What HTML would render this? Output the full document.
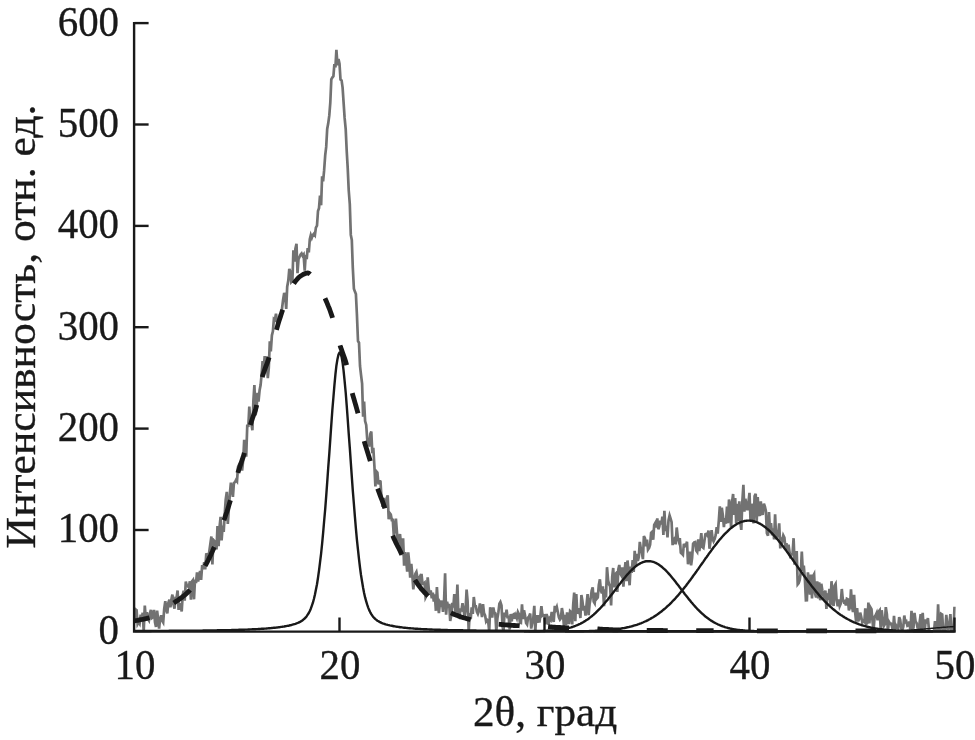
<!DOCTYPE html>
<html lang="ru">
<head>
<meta charset="utf-8">
<title>XRD</title>
<style>
html,body{margin:0;padding:0;background:#fff;}
body{width:975px;height:740px;overflow:hidden;font-family:"Liberation Serif",serif;}
svg{display:block;filter:grayscale(1);}
svg text{font-family:"Liberation Serif",serif;font-size:43.0px;fill:#1c1819;stroke:#1c1819;stroke-width:0.35px;}
svg text.t{font-size:41.5px;}
</style>
</head>
<body>
<svg width="975" height="740" viewBox="0 0 975 740">
<rect x="0" y="0" width="975" height="740" fill="#ffffff"/>
<defs><clipPath id="plot"><rect x="134.5" y="0" width="821.3" height="631.4"/></clipPath></defs>
<!-- measured data (noisy) -->
<path clip-path="url(#plot)" d="M134.5,620.3 L135.5,609.3 L136.6,610.2 L137.6,624.0 L138.6,622.1 L139.6,623.7 L140.7,614.6 L141.7,619.5 L142.7,612.7 L143.7,631.4 L144.8,605.6 L145.8,618.9 L146.8,612.3 L147.8,618.7 L148.9,620.4 L149.9,613.2 L150.9,610.0 L151.9,618.0 L153.0,617.2 L154.0,609.9 L155.0,622.2 L156.0,627.0 L157.1,610.7 L158.1,618.9 L159.1,628.6 L160.1,618.9 L161.2,615.3 L162.2,620.7 L163.2,622.4 L164.2,609.0 L165.3,601.1 L166.3,609.8 L167.3,613.3 L168.3,603.1 L169.4,599.6 L170.4,607.3 L171.4,599.5 L172.4,594.6 L173.5,604.3 L174.5,608.7 L175.5,598.2 L176.5,598.4 L177.6,590.5 L178.6,609.9 L179.6,603.9 L180.6,604.7 L181.7,611.5 L182.7,594.9 L183.7,590.7 L184.7,600.6 L185.8,581.6 L186.8,585.5 L187.8,586.2 L188.8,587.1 L189.9,581.2 L190.9,599.6 L191.9,581.6 L192.9,580.3 L194.0,599.3 L195.0,579.5 L196.0,583.1 L197.0,572.5 L198.1,581.4 L199.1,576.0 L200.1,571.0 L201.1,579.9 L202.2,565.1 L203.2,569.4 L204.2,562.3 L205.2,569.4 L206.3,553.3 L207.3,555.6 L208.3,560.5 L209.3,551.3 L210.4,543.5 L211.4,536.5 L212.4,564.4 L213.4,540.0 L214.5,541.3 L215.5,543.8 L216.5,549.4 L217.5,526.1 L218.6,546.1 L219.6,526.6 L220.6,516.9 L221.6,540.5 L222.7,525.6 L223.7,531.8 L224.7,514.5 L225.7,499.7 L226.8,491.9 L227.8,524.0 L228.8,509.6 L229.8,494.3 L230.9,482.6 L231.9,489.7 L232.9,496.8 L233.9,483.1 L235.0,482.1 L236.0,480.0 L237.0,481.3 L238.0,467.0 L239.1,464.5 L240.1,465.2 L241.1,463.4 L242.1,470.6 L243.2,459.7 L244.2,439.9 L245.2,449.3 L246.2,456.6 L247.3,424.5 L248.3,427.0 L249.3,406.6 L250.3,422.2 L251.4,423.8 L252.4,430.3 L253.4,400.2 L254.4,385.0 L255.5,415.2 L256.5,409.8 L257.5,392.9 L258.5,401.6 L259.6,390.2 L260.6,385.1 L261.6,374.5 L262.6,361.1 L263.7,368.3 L264.7,356.2 L265.7,366.8 L266.7,356.4 L267.8,378.2 L268.8,367.9 L269.8,341.4 L270.8,351.4 L271.9,335.3 L272.9,331.3 L273.9,319.0 L274.9,319.9 L276.0,313.7 L277.0,321.4 L278.0,323.6 L279.0,320.2 L280.1,314.1 L281.1,317.2 L282.1,307.8 L283.1,299.8 L284.2,293.0 L285.2,295.8 L286.2,309.0 L287.2,286.7 L288.3,280.6 L289.3,268.9 L290.3,271.6 L291.3,282.0 L292.4,280.8 L293.4,250.4 L294.4,261.6 L295.4,248.7 L296.5,243.9 L297.5,273.2 L298.5,259.1 L299.5,257.0 L300.6,254.6 L301.6,253.5 L302.6,255.7 L303.6,254.5 L304.7,270.6 L305.7,254.9 L306.7,259.2 L307.7,248.2 L308.8,252.5 L309.8,239.2 L310.8,235.1 L311.8,237.9 L312.9,234.9 L313.9,233.7 L314.9,235.1 L315.9,227.6 L317.0,225.6 L318.0,211.0 L319.0,208.2 L320.0,195.5 L321.1,205.3 L322.1,176.2 L323.1,181.3 L324.1,170.7 L325.2,155.3 L326.2,146.9 L327.2,128.9 L328.2,123.6 L329.3,115.4 L330.3,102.7 L331.3,79.4 L332.3,77.6 L333.4,76.2 L334.4,64.0 L335.4,67.4 L336.4,49.8 L337.5,65.4 L338.5,59.0 L339.5,63.6 L340.5,79.6 L341.6,80.4 L342.6,87.6 L343.6,102.6 L344.6,117.7 L345.7,129.2 L346.7,150.7 L347.7,167.8 L348.7,190.0 L349.8,204.1 L350.8,234.9 L351.8,240.0 L352.8,267.6 L353.9,288.7 L354.9,291.6 L355.9,294.1 L356.9,314.2 L358.0,341.0 L359.0,342.7 L360.0,366.0 L361.0,374.7 L362.1,383.7 L363.1,416.7 L364.1,401.5 L365.1,421.1 L366.2,425.0 L367.2,438.9 L368.2,445.2 L369.2,445.4 L370.3,434.0 L371.3,431.5 L372.3,453.3 L373.3,447.9 L374.4,466.0 L375.4,486.5 L376.4,471.4 L377.4,472.6 L378.5,484.5 L379.5,480.9 L380.5,481.5 L381.5,498.0 L382.6,506.8 L383.6,498.2 L384.6,501.5 L385.6,506.6 L386.7,498.1 L387.7,495.4 L388.7,519.3 L389.7,513.1 L390.8,514.6 L391.8,520.1 L392.8,520.0 L393.8,535.8 L394.9,528.0 L395.9,518.6 L396.9,531.9 L397.9,546.9 L399.0,537.9 L400.0,534.2 L401.0,544.4 L402.0,555.0 L403.1,538.4 L404.1,565.6 L405.1,552.2 L406.1,559.0 L407.2,571.7 L408.2,552.4 L409.2,562.2 L410.2,577.6 L411.3,563.9 L412.3,574.8 L413.3,589.4 L414.3,580.4 L415.4,573.6 L416.4,571.9 L417.4,577.5 L418.4,579.9 L419.5,577.6 L420.5,584.7 L421.5,574.0 L422.5,584.0 L423.6,583.8 L424.6,582.8 L425.6,597.5 L426.6,595.5 L427.7,577.4 L428.7,588.5 L429.7,594.7 L430.7,590.4 L431.8,598.2 L432.8,592.7 L433.8,601.5 L434.8,594.4 L435.9,610.8 L436.9,587.1 L437.9,603.4 L438.9,613.1 L440.0,602.4 L441.0,604.2 L442.0,600.5 L443.0,611.9 L444.1,599.6 L445.1,573.3 L446.1,614.7 L447.1,601.7 L448.2,607.5 L449.2,603.8 L450.2,620.9 L451.2,615.8 L452.3,602.9 L453.3,607.4 L454.3,594.0 L455.3,613.7 L456.4,606.8 L457.4,584.6 L458.4,615.2 L459.4,616.7 L460.5,609.8 L461.5,610.2 L462.5,603.2 L463.5,609.4 L464.6,616.9 L465.6,609.2 L466.6,589.6 L467.6,601.0 L468.7,631.4 L469.7,613.0 L470.7,619.2 L471.7,607.3 L472.8,613.9 L473.8,597.0 L474.8,605.4 L475.8,605.9 L476.9,611.8 L477.9,613.9 L478.9,611.0 L479.9,603.4 L481.0,609.8 L482.0,617.1 L483.0,604.1 L484.0,613.1 L485.1,615.4 L486.1,621.3 L487.1,619.7 L488.1,620.4 L489.2,631.4 L490.2,607.3 L491.2,611.1 L492.2,617.5 L493.3,607.5 L494.3,612.5 L495.3,613.2 L496.3,631.4 L497.4,618.3 L498.4,612.2 L499.4,603.7 L500.4,602.0 L501.5,605.4 L502.5,626.2 L503.5,631.4 L504.5,612.5 L505.6,617.0 L506.6,609.6 L507.6,618.4 L508.6,615.7 L509.7,629.5 L510.7,614.0 L511.7,621.3 L512.7,615.0 L513.8,614.2 L514.8,618.8 L515.8,615.4 L516.8,618.1 L517.9,612.0 L518.9,614.1 L519.9,622.5 L520.9,622.9 L522.0,604.4 L523.0,619.1 L524.0,610.4 L525.0,615.2 L526.1,622.9 L527.1,624.4 L528.1,617.5 L529.1,616.4 L530.2,613.6 L531.2,628.6 L532.2,623.3 L533.2,619.3 L534.3,605.8 L535.3,631.4 L536.3,615.1 L537.3,622.9 L538.4,615.2 L539.4,622.5 L540.4,615.7 L541.4,606.1 L542.5,615.7 L543.5,615.0 L544.5,615.5 L545.5,624.4 L546.6,614.0 L547.6,619.9 L548.6,624.7 L549.6,618.4 L550.7,619.8 L551.7,611.9 L552.7,618.1 L553.7,621.8 L554.8,605.8 L555.8,609.4 L556.8,606.9 L557.8,611.9 L558.9,617.4 L559.9,619.6 L560.9,618.2 L561.9,608.1 L563.0,614.4 L564.0,626.7 L565.0,614.8 L566.0,625.4 L567.1,612.3 L568.1,622.8 L569.1,622.8 L570.1,611.2 L571.2,612.2 L572.2,624.4 L573.2,604.5 L574.2,592.5 L575.3,621.3 L576.3,594.0 L577.3,613.7 L578.3,611.5 L579.4,608.3 L580.4,618.0 L581.4,595.1 L582.4,601.0 L583.5,610.5 L584.5,606.0 L585.5,615.5 L586.5,605.3 L587.6,594.1 L588.6,615.2 L589.6,604.1 L590.6,598.6 L591.7,590.5 L592.7,587.4 L593.7,601.6 L594.7,603.3 L595.8,592.7 L596.8,598.7 L597.8,597.5 L598.8,585.2 L599.9,579.3 L600.9,590.4 L601.9,593.4 L602.9,586.2 L604.0,606.1 L605.0,589.4 L606.0,597.4 L607.0,567.2 L608.1,580.4 L609.1,584.5 L610.1,586.4 L611.1,605.4 L612.2,576.8 L613.2,568.0 L614.2,587.4 L615.2,574.3 L616.3,573.1 L617.3,591.9 L618.3,569.5 L619.3,565.0 L620.4,573.9 L621.4,575.6 L622.4,567.3 L623.4,586.7 L624.5,571.5 L625.5,562.1 L626.5,581.2 L627.5,560.5 L628.6,571.8 L629.6,585.3 L630.6,566.6 L631.6,573.0 L632.7,560.2 L633.7,572.0 L634.7,550.9 L635.7,565.3 L636.8,554.0 L637.8,560.9 L638.8,557.0 L639.8,541.9 L640.9,549.1 L641.9,553.0 L642.9,559.1 L643.9,536.0 L645.0,538.3 L646.0,546.3 L647.0,539.7 L648.0,549.6 L649.1,548.0 L650.1,544.8 L651.1,532.8 L652.1,531.8 L653.2,539.7 L654.2,525.0 L655.2,523.2 L656.2,527.4 L657.3,518.3 L658.3,529.2 L659.3,526.6 L660.3,520.6 L661.4,524.5 L662.4,516.6 L663.4,534.9 L664.4,510.8 L665.5,530.9 L666.5,525.8 L667.5,537.4 L668.5,520.5 L669.6,515.5 L670.6,518.6 L671.6,522.1 L672.6,545.1 L673.7,539.7 L674.7,538.4 L675.7,544.3 L676.7,527.5 L677.8,537.6 L678.8,541.1 L679.8,538.1 L680.8,552.6 L681.9,553.7 L682.9,554.8 L683.9,543.8 L684.9,546.3 L686.0,545.3 L687.0,541.7 L688.0,564.3 L689.0,557.7 L690.1,551.7 L691.1,565.3 L692.1,557.9 L693.1,543.8 L694.2,542.5 L695.2,542.1 L696.2,550.6 L697.2,552.0 L698.3,539.3 L699.3,551.1 L700.3,543.5 L701.3,533.2 L702.4,547.1 L703.4,547.9 L704.4,541.1 L705.4,534.2 L706.5,533.8 L707.5,535.4 L708.5,530.5 L709.5,548.7 L710.6,540.7 L711.6,530.2 L712.6,538.8 L713.6,541.3 L714.7,538.9 L715.7,535.1 L716.7,527.1 L717.7,533.6 L718.8,520.9 L719.8,506.4 L720.8,522.0 L721.8,507.8 L722.9,515.6 L723.9,527.2 L724.9,518.2 L725.9,523.7 L727.0,506.6 L728.0,523.1 L729.0,499.5 L730.0,505.3 L731.1,528.3 L732.1,501.8 L733.1,494.0 L734.1,514.9 L735.2,498.0 L736.2,523.1 L737.2,503.9 L738.2,521.3 L739.3,501.4 L740.3,522.2 L741.3,529.9 L742.3,502.1 L743.4,484.9 L744.4,511.6 L745.4,498.8 L746.4,505.7 L747.5,510.1 L748.5,501.9 L749.5,492.9 L750.5,519.9 L751.6,503.9 L752.6,506.5 L753.6,523.4 L754.6,496.1 L755.7,493.7 L756.7,521.0 L757.7,497.0 L758.7,513.2 L759.8,515.9 L760.8,501.4 L761.8,513.9 L762.8,513.8 L763.9,503.7 L764.9,506.7 L765.9,511.2 L766.9,533.1 L768.0,535.7 L769.0,512.0 L770.0,531.8 L771.0,523.0 L772.1,535.3 L773.1,528.3 L774.1,539.4 L775.1,514.2 L776.2,539.5 L777.2,532.7 L778.2,534.6 L779.2,523.4 L780.3,548.5 L781.3,537.5 L782.3,540.6 L783.3,535.5 L784.4,537.7 L785.4,547.7 L786.4,543.1 L787.4,550.4 L788.5,544.7 L789.5,551.6 L790.5,558.4 L791.5,554.7 L792.6,553.1 L793.6,538.2 L794.6,564.6 L795.6,559.4 L796.7,551.1 L797.7,584.3 L798.7,583.1 L799.7,580.0 L800.8,572.3 L801.8,551.6 L802.8,571.1 L803.8,565.5 L804.9,579.5 L805.9,600.3 L806.9,600.2 L807.9,572.4 L809.0,580.8 L810.0,594.6 L811.0,574.6 L812.0,598.4 L813.1,576.1 L814.1,574.2 L815.1,593.9 L816.1,597.4 L817.2,581.3 L818.2,598.4 L819.2,582.3 L820.2,600.3 L821.3,583.8 L822.3,590.3 L823.3,595.3 L824.3,599.6 L825.4,590.5 L826.4,609.0 L827.4,595.8 L828.4,597.3 L829.5,588.8 L830.5,605.5 L831.5,581.2 L832.5,598.6 L833.6,606.0 L834.6,585.6 L835.6,583.9 L836.6,599.9 L837.7,606.3 L838.7,599.5 L839.7,606.0 L840.7,603.6 L841.8,589.0 L842.8,599.3 L843.8,602.1 L844.8,601.3 L845.9,605.4 L846.9,598.9 L847.9,599.4 L848.9,610.4 L850.0,607.3 L851.0,589.4 L852.0,606.4 L853.0,612.1 L854.1,594.8 L855.1,612.0 L856.1,621.6 L857.1,608.0 L858.2,621.3 L859.2,618.7 L860.2,612.6 L861.2,616.8 L862.3,622.4 L863.3,621.2 L864.3,622.0 L865.3,608.3 L866.4,623.8 L867.4,622.9 L868.4,602.5 L869.4,623.4 L870.5,607.5 L871.5,609.2 L872.5,621.0 L873.5,631.3 L874.6,616.7 L875.6,615.2 L876.6,613.0 L877.6,620.3 L878.7,611.5 L879.7,610.2 L880.7,629.6 L881.7,610.2 L882.8,620.2 L883.8,626.1 L884.8,624.3 L885.8,607.2 L886.9,614.3 L887.9,631.4 L888.9,621.6 L889.9,623.4 L891.0,623.7 L892.0,626.4 L893.0,631.4 L894.0,615.9 L895.1,630.0 L896.1,625.6 L897.1,627.4 L898.1,628.5 L899.2,617.1 L900.2,619.9 L901.2,628.2 L902.2,630.3 L903.3,626.7 L904.3,615.5 L905.3,622.1 L906.3,621.3 L907.4,625.7 L908.4,625.2 L909.4,621.5 L910.4,631.4 L911.5,610.7 L912.5,629.4 L913.5,627.7 L914.5,612.9 L915.6,621.6 L916.6,623.0 L917.6,627.9 L918.6,631.4 L919.7,622.0 L920.7,614.1 L921.7,630.4 L922.7,612.9 L923.8,631.4 L924.8,629.1 L925.8,619.5 L926.8,623.5 L927.9,618.1 L928.9,629.2 L929.9,631.4 L930.9,631.4 L932.0,631.4 L933.0,631.4 L934.0,631.4 L935.0,621.1 L936.1,628.6 L937.1,631.4 L938.1,604.3 L939.1,630.0 L940.2,631.4 L941.2,613.9 L942.2,614.5 L943.2,631.4 L944.3,631.4 L945.3,631.3 L946.3,614.8 L947.3,625.9 L948.4,629.8 L949.4,623.8 L950.4,614.2 L951.4,631.4 L952.5,626.5 L953.5,631.4 L954.5,606.7" fill="none" stroke="#717275" stroke-width="2.7" stroke-linejoin="miter" stroke-miterlimit="4"/>
<!-- amorphous halo (dashed) -->
<path d="M134.5,621.0 L135.5,620.7 L136.6,620.5 L137.6,620.3 L138.6,620.1 L139.6,619.9 L140.7,619.7 L141.7,619.5 L142.7,619.3 L143.7,619.1 L144.8,618.8 L145.8,618.6 L146.8,618.4 L147.8,618.1 L148.9,617.8 L149.9,617.5 L150.9,617.2 L151.9,616.9 L153.0,616.5 L154.0,616.0 L155.0,615.6 L156.0,615.1 L157.1,614.5 L158.1,613.9 L159.1,613.3 L160.1,612.7 L161.2,612.0 L162.2,611.3 L163.2,610.6 L164.2,609.9 L165.3,609.2 L166.3,608.4 L167.3,607.7 L168.3,606.9 L169.4,606.2 L170.4,605.4 L171.4,604.7 L172.4,604.0 L173.5,603.2 L174.5,602.5 L175.5,601.8 L176.5,601.1 L177.6,600.4 L178.6,599.7 L179.6,599.0 L180.6,598.3 L181.7,597.5 L182.7,596.7 L183.7,595.9 L184.7,595.1 L185.8,594.2 L186.8,593.3 L187.8,592.3 L188.8,591.3 L189.9,590.2 L190.9,589.0 L191.9,587.7 L192.9,586.3 L194.0,584.9 L195.0,583.3 L196.0,581.8 L197.0,580.1 L198.1,578.4 L199.1,576.7 L200.1,574.9 L201.1,573.1 L202.2,571.3 L203.2,569.5 L204.2,567.6 L205.2,565.7 L206.3,563.9 L207.3,561.9 L208.3,560.0 L209.3,557.9 L210.4,555.8 L211.4,553.6 L212.4,551.4 L213.4,549.0 L214.5,546.6 L215.5,544.1 L216.5,541.4 L217.5,538.7 L218.6,535.8 L219.6,533.0 L220.6,530.0 L221.6,527.1 L222.7,524.1 L223.7,521.1 L224.7,518.1 L225.7,515.1 L226.8,512.0 L227.8,508.9 L228.8,505.6 L229.8,502.3 L230.9,498.8 L231.9,495.2 L232.9,491.3 L233.9,487.5 L235.0,483.6 L236.0,479.7 L237.0,476.0 L238.0,472.4 L239.1,469.1 L240.1,466.1 L241.1,463.1 L242.1,460.1 L243.2,456.9 L244.2,453.5 L245.2,449.5 L246.2,444.7 L247.3,439.5 L248.3,434.3 L249.3,429.4 L250.3,425.1 L251.4,421.6 L252.4,418.5 L253.4,415.7 L254.4,412.9 L255.5,409.8 L256.5,406.2 L257.5,401.7 L258.5,396.4 L259.6,390.7 L260.6,385.0 L261.6,379.9 L262.6,375.8 L263.7,372.5 L264.7,369.6 L265.7,366.9 L266.7,364.3 L267.8,361.5 L268.8,358.3 L269.8,354.8 L270.8,351.1 L271.9,347.1 L272.9,343.1 L273.9,339.1 L274.9,335.2 L276.0,331.4 L277.0,327.9 L278.0,324.4 L279.0,321.1 L280.1,317.8 L281.1,314.6 L282.1,311.6 L283.1,308.7 L284.2,305.7 L285.2,302.8 L286.2,299.9 L287.2,297.1 L288.3,294.4 L289.3,291.9 L290.3,289.6 L291.3,287.6 L292.4,285.9 L293.4,284.2 L294.4,282.7 L295.4,281.3 L296.5,280.0 L297.5,278.8 L298.5,277.7 L299.5,276.8 L300.6,276.1 L301.6,275.4 L302.6,274.8 L303.6,274.2 L304.7,273.7 L305.7,273.3 L306.7,273.1 L307.7,273.0 L308.8,273.3 L309.8,273.9 L310.8,274.8 L311.8,275.8 L312.9,277.0 L313.9,278.1 L314.9,279.3 L315.9,280.7 L317.0,282.3 L318.0,284.0 L319.0,285.9 L320.0,287.9 L321.1,290.0 L322.1,292.1 L323.1,294.3 L324.1,296.5 L325.2,298.7 L326.2,301.0 L327.2,303.3 L328.2,305.9 L329.3,308.5 L330.3,311.2 L331.3,314.1 L332.3,317.1 L333.4,320.5 L334.4,324.2 L335.4,328.1 L336.4,332.1 L337.5,336.1 L338.5,340.0 L339.5,343.6 L340.5,346.9 L341.6,349.9 L342.6,352.7 L343.6,355.5 L344.6,358.4 L345.7,361.7 L346.7,365.4 L347.7,370.1 L348.7,375.3 L349.8,380.7 L350.8,386.1 L351.8,391.0 L352.8,395.2 L353.9,398.8 L354.9,402.3 L355.9,405.7 L356.9,409.3 L358.0,413.3 L359.0,417.7 L360.0,422.5 L361.0,427.4 L362.1,432.2 L363.1,436.7 L364.1,440.8 L365.1,444.4 L366.2,447.7 L367.2,451.0 L368.2,454.2 L369.2,457.5 L370.3,461.2 L371.3,465.0 L372.3,469.0 L373.3,473.1 L374.4,477.1 L375.4,481.0 L376.4,484.6 L377.4,488.0 L378.5,491.0 L379.5,493.7 L380.5,496.3 L381.5,498.9 L382.6,501.6 L383.6,504.4 L384.6,507.5 L385.6,510.9 L386.7,514.6 L387.7,518.5 L388.7,522.4 L389.7,526.2 L390.8,529.8 L391.8,533.0 L392.8,535.7 L393.8,538.2 L394.9,540.5 L395.9,542.7 L396.9,544.7 L397.9,546.7 L399.0,548.7 L400.0,550.8 L401.0,552.9 L402.0,555.0 L403.1,557.2 L404.1,559.4 L405.1,561.6 L406.1,563.8 L407.2,565.9 L408.2,568.0 L409.2,570.1 L410.2,572.0 L411.3,573.9 L412.3,575.8 L413.3,577.5 L414.3,579.1 L415.4,580.7 L416.4,582.2 L417.4,583.7 L418.4,585.1 L419.5,586.5 L420.5,587.8 L421.5,589.1 L422.5,590.2 L423.6,591.4 L424.6,592.5 L425.6,593.5 L426.6,594.6 L427.7,595.7 L428.7,596.7 L429.7,597.7 L430.7,598.7 L431.8,599.7 L432.8,600.6 L433.8,601.5 L434.8,602.4 L435.9,603.3 L436.9,604.2 L437.9,605.0 L438.9,605.8 L440.0,606.5 L441.0,607.3 L442.0,608.0 L443.0,608.7 L444.1,609.3 L445.1,609.9 L446.1,610.5 L447.1,611.0 L448.2,611.6 L449.2,612.1 L450.2,612.6 L451.2,613.1 L452.3,613.5 L453.3,614.0 L454.3,614.4 L455.3,614.8 L456.4,615.2 L457.4,615.6 L458.4,616.0 L459.4,616.4 L460.5,616.7 L461.5,617.1 L462.5,617.4 L463.5,617.7 L464.6,618.0 L465.6,618.3 L466.6,618.6 L467.6,618.8 L468.7,619.1 L469.7,619.3 L470.7,619.6 L471.7,619.8 L472.8,620.0 L473.8,620.3 L474.8,620.5 L475.8,620.7 L476.9,620.9 L477.9,621.1 L478.9,621.3 L479.9,621.5 L481.0,621.7 L482.0,621.9 L483.0,622.1 L484.0,622.2 L485.1,622.4 L486.1,622.6 L487.1,622.7 L488.1,622.9 L489.2,623.0 L490.2,623.2 L491.2,623.3 L492.2,623.4 L493.3,623.6 L494.3,623.7 L495.3,623.8 L496.3,623.9 L497.4,624.0 L498.4,624.2 L499.4,624.3 L500.4,624.4 L501.5,624.5 L502.5,624.6 L503.5,624.7 L504.5,624.8 L505.6,624.9 L506.6,624.9 L507.6,625.0 L508.6,625.1 L509.7,625.2 L510.7,625.3 L511.7,625.3 L512.7,625.4 L513.8,625.5 L514.8,625.5 L515.8,625.6 L516.8,625.6 L517.9,625.7 L518.9,625.7 L519.9,625.8 L520.9,625.8 L522.0,625.9 L523.0,625.9 L524.0,626.0 L525.0,626.0 L526.1,626.0 L527.1,626.1 L528.1,626.1 L529.1,626.1 L530.2,626.2 L531.2,626.2 L532.2,626.2 L533.2,626.3 L534.3,626.3 L535.3,626.3 L536.3,626.4 L537.3,626.4 L538.4,626.5 L539.4,626.5 L540.4,626.5 L541.4,626.6 L542.5,626.6 L543.5,626.6 L544.5,626.7 L545.5,626.7 L546.6,626.8 L547.6,626.8 L548.6,626.9 L549.6,626.9 L550.7,627.0 L551.7,627.0 L552.7,627.1 L553.7,627.1 L554.8,627.2 L555.8,627.3 L556.8,627.3 L557.8,627.4 L558.9,627.4 L559.9,627.5 L560.9,627.6 L561.9,627.6 L563.0,627.7 L564.0,627.7 L565.0,627.8 L566.0,627.8 L567.1,627.9 L568.1,627.9 L569.1,627.9 L570.1,628.0 L571.2,628.0 L572.2,628.1 L573.2,628.1 L574.2,628.1 L575.3,628.2 L576.3,628.2 L577.3,628.2 L578.3,628.3 L579.4,628.3 L580.4,628.3 L581.4,628.4 L582.4,628.4 L583.5,628.4 L584.5,628.5 L585.5,628.5 L586.5,628.5 L587.6,628.6 L588.6,628.6 L589.6,628.6 L590.6,628.7 L591.7,628.7 L592.7,628.7 L593.7,628.8 L594.7,628.8 L595.8,628.9 L596.8,628.9 L597.8,629.0 L598.8,629.0 L599.9,629.1 L600.9,629.1 L601.9,629.2 L602.9,629.3 L604.0,629.3 L605.0,629.4 L606.0,629.4 L607.0,629.5 L608.1,629.5 L609.1,629.6 L610.1,629.6 L611.1,629.7 L612.2,629.7 L613.2,629.8 L614.2,629.8 L615.2,629.8 L616.3,629.9 L617.3,629.9 L618.3,629.9 L619.3,630.0 L620.4,630.0 L621.4,630.0 L622.4,630.1 L623.4,630.1 L624.5,630.1 L625.5,630.1 L626.5,630.2 L627.5,630.2 L628.6,630.2 L629.6,630.2 L630.6,630.3 L631.6,630.3 L632.7,630.3 L633.7,630.3 L634.7,630.3 L635.7,630.4 L636.8,630.4 L637.8,630.4 L638.8,630.4 L639.8,630.4 L640.9,630.4 L641.9,630.4 L642.9,630.5 L643.9,630.5 L645.0,630.5 L646.0,630.5 L647.0,630.5 L648.0,630.5 L649.1,630.5 L650.1,630.5 L651.1,630.5 L652.1,630.5 L653.2,630.5 L654.2,630.5 L655.2,630.5 L656.2,630.5 L657.3,630.5 L658.3,630.5 L659.3,630.5 L660.3,630.5 L661.4,630.5 L662.4,630.5 L663.4,630.6 L664.4,630.6 L665.5,630.6 L666.5,630.6 L667.5,630.6 L668.5,630.6 L669.6,630.6 L670.6,630.6 L671.6,630.6 L672.6,630.6 L673.7,630.6 L674.7,630.6 L675.7,630.6 L676.7,630.6 L677.8,630.6 L678.8,630.6 L679.8,630.6 L680.8,630.6 L681.9,630.6 L682.9,630.6 L683.9,630.6 L684.9,630.6 L686.0,630.6 L687.0,630.6 L688.0,630.6 L689.0,630.6 L690.1,630.6 L691.1,630.6 L692.1,630.6 L693.1,630.6 L694.2,630.6 L695.2,630.6 L696.2,630.6 L697.2,630.6 L698.3,630.6 L699.3,630.6 L700.3,630.6 L701.3,630.6 L702.4,630.7 L703.4,630.7 L704.4,630.7 L705.4,630.7 L706.5,630.7 L707.5,630.7 L708.5,630.7 L709.5,630.7 L710.6,630.7 L711.6,630.7 L712.6,630.7 L713.6,630.7" fill="none" stroke="#1c1819" stroke-width="4.8" stroke-dasharray="21 28.45" stroke-dashoffset="5.6"/>
<path d="M756.9,630.8 L777.8,630.8 M806.2,630.8 L827.1,630.8 M855.5,630.8 L876.4,630.8" fill="none" stroke="#1c1819" stroke-width="4.8"/>
<!-- fitted peaks -->
<g fill="none" stroke="#1c1819" stroke-width="2.4" stroke-linejoin="round">
<path d="M134.5,631.0 L135.5,631.0 L136.6,631.0 L137.6,631.0 L138.6,631.0 L139.6,631.0 L140.7,631.0 L141.7,631.0 L142.7,631.0 L143.7,631.0 L144.8,631.0 L145.8,631.0 L146.8,631.0 L147.8,631.0 L148.9,631.0 L149.9,631.0 L150.9,631.0 L151.9,630.9 L153.0,630.9 L154.0,630.9 L155.0,630.9 L156.0,630.9 L157.1,630.9 L158.1,630.9 L159.1,630.9 L160.1,630.9 L161.2,630.9 L162.2,630.9 L163.2,630.9 L164.2,630.9 L165.3,630.9 L166.3,630.9 L167.3,630.9 L168.3,630.9 L169.4,630.8 L170.4,630.8 L171.4,630.8 L172.4,630.8 L173.5,630.8 L174.5,630.8 L175.5,630.8 L176.5,630.8 L177.6,630.8 L178.6,630.8 L179.6,630.8 L180.6,630.8 L181.7,630.8 L182.7,630.8 L183.7,630.7 L184.7,630.7 L185.8,630.7 L186.8,630.7 L187.8,630.7 L188.8,630.7 L189.9,630.7 L190.9,630.7 L191.9,630.7 L192.9,630.7 L194.0,630.6 L195.0,630.6 L196.0,630.6 L197.0,630.6 L198.1,630.6 L199.1,630.6 L200.1,630.6 L201.1,630.6 L202.2,630.6 L203.2,630.5 L204.2,630.5 L205.2,630.5 L206.3,630.5 L207.3,630.5 L208.3,630.5 L209.3,630.5 L210.4,630.4 L211.4,630.4 L212.4,630.4 L213.4,630.4 L214.5,630.4 L215.5,630.4 L216.5,630.4 L217.5,630.3 L218.6,630.3 L219.6,630.3 L220.6,630.3 L221.6,630.3 L222.7,630.2 L223.7,630.2 L224.7,630.2 L225.7,630.2 L226.8,630.2 L227.8,630.1 L228.8,630.1 L229.8,630.1 L230.9,630.1 L231.9,630.0 L232.9,630.0 L233.9,630.0 L235.0,630.0 L236.0,629.9 L237.0,629.9 L238.0,629.9 L239.1,629.8 L240.1,629.8 L241.1,629.8 L242.1,629.7 L243.2,629.7 L244.2,629.7 L245.2,629.6 L246.2,629.6 L247.3,629.6 L248.3,629.5 L249.3,629.5 L250.3,629.4 L251.4,629.4 L252.4,629.3 L253.4,629.3 L254.4,629.2 L255.5,629.2 L256.5,629.1 L257.5,629.1 L258.5,629.0 L259.6,629.0 L260.6,628.9 L261.6,628.8 L262.6,628.8 L263.7,628.7 L264.7,628.6 L265.7,628.6 L266.7,628.5 L267.8,628.4 L268.8,628.3 L269.8,628.2 L270.8,628.1 L271.9,628.0 L272.9,627.9 L273.9,627.8 L274.9,627.7 L276.0,627.6 L277.0,627.5 L278.0,627.4 L279.0,627.2 L280.1,627.1 L281.1,626.9 L282.1,626.8 L283.1,626.6 L284.2,626.5 L285.2,626.3 L286.2,626.1 L287.2,625.9 L288.3,625.7 L289.3,625.5 L290.3,625.2 L291.3,625.0 L292.4,624.7 L293.4,624.4 L294.4,624.1 L295.4,623.8 L296.5,623.4 L297.5,623.0 L298.5,622.6 L299.5,622.1 L300.6,621.6 L301.6,620.9 L302.6,620.2 L303.6,619.4 L304.7,618.5 L305.7,617.4 L306.7,616.2 L307.7,614.7 L308.8,613.0 L309.8,611.0 L310.8,608.7 L311.8,605.9 L312.9,602.7 L313.9,599.0 L314.9,594.7 L315.9,589.8 L317.0,584.2 L318.0,577.8 L319.0,570.6 L320.0,562.6 L321.1,553.6 L322.1,543.8 L323.1,533.1 L324.1,521.5 L325.2,509.1 L326.2,496.1 L327.2,482.3 L328.2,468.2 L329.3,453.7 L330.3,439.1 L331.3,424.7 L332.3,410.7 L333.4,397.5 L334.4,385.4 L335.4,374.6 L336.4,365.7 L337.5,358.9 L338.5,354.5 L339.5,352.6 L340.5,353.4 L341.6,356.9 L342.6,362.7 L343.6,370.8 L344.6,380.9 L345.7,392.5 L346.7,405.3 L347.7,419.0 L348.7,433.3 L349.8,447.9 L350.8,462.4 L351.8,476.7 L352.8,490.6 L353.9,504.0 L354.9,516.7 L355.9,528.6 L356.9,539.6 L358.0,549.8 L359.0,559.1 L360.0,567.5 L361.0,575.0 L362.1,581.7 L363.1,587.7 L364.1,592.9 L365.1,597.4 L366.2,601.3 L367.2,604.7 L368.2,607.6 L369.2,610.1 L370.3,612.3 L371.3,614.1 L372.3,615.6 L373.3,617.0 L374.4,618.1 L375.4,619.1 L376.4,619.9 L377.4,620.7 L378.5,621.3 L379.5,621.9 L380.5,622.4 L381.5,622.9 L382.6,623.3 L383.6,623.6 L384.6,624.0 L385.6,624.3 L386.7,624.6 L387.7,624.9 L388.7,625.1 L389.7,625.4 L390.8,625.6 L391.8,625.8 L392.8,626.0 L393.8,626.2 L394.9,626.4 L395.9,626.6 L396.9,626.7 L397.9,626.9 L399.0,627.0 L400.0,627.2 L401.0,627.3 L402.0,627.4 L403.1,627.6 L404.1,627.7 L405.1,627.8 L406.1,627.9 L407.2,628.0 L408.2,628.1 L409.2,628.2 L410.2,628.3 L411.3,628.4 L412.3,628.4 L413.3,628.5 L414.3,628.6 L415.4,628.7 L416.4,628.7 L417.4,628.8 L418.4,628.9 L419.5,628.9 L420.5,629.0 L421.5,629.1 L422.5,629.1 L423.6,629.2 L424.6,629.2 L425.6,629.3 L426.6,629.3 L427.7,629.4 L428.7,629.4 L429.7,629.5 L430.7,629.5 L431.8,629.5 L432.8,629.6 L433.8,629.6 L434.8,629.7 L435.9,629.7 L436.9,629.7 L437.9,629.8 L438.9,629.8 L440.0,629.8 L441.0,629.9 L442.0,629.9 L443.0,629.9 L444.1,629.9 L445.1,630.0 L446.1,630.0 L447.1,630.0 L448.2,630.1 L449.2,630.1 L450.2,630.1 L451.2,630.1 L452.3,630.1 L453.3,630.2 L454.3,630.2 L455.3,630.2 L456.4,630.2 L457.4,630.3 L458.4,630.3 L459.4,630.3 L460.5,630.3 L461.5,630.3 L462.5,630.3 L463.5,630.4 L464.6,630.4 L465.6,630.4 L466.6,630.4 L467.6,630.4 L468.7,630.4 L469.7,630.5 L470.7,630.5 L471.7,630.5 L472.8,630.5 L473.8,630.5 L474.8,630.5 L475.8,630.5 L476.9,630.6 L477.9,630.6 L478.9,630.6 L479.9,630.6 L481.0,630.6 L482.0,630.6 L483.0,630.6 L484.0,630.6 L485.1,630.6 L486.1,630.7 L487.1,630.7 L488.1,630.7 L489.2,630.7 L490.2,630.7 L491.2,630.7 L492.2,630.7 L493.3,630.7 L494.3,630.7 L495.3,630.7 L496.3,630.7 L497.4,630.8 L498.4,630.8 L499.4,630.8 L500.4,630.8 L501.5,630.8 L502.5,630.8 L503.5,630.8 L504.5,630.8 L505.6,630.8 L506.6,630.8 L507.6,630.8 L508.6,630.8 L509.7,630.8 L510.7,630.9 L511.7,630.9 L512.7,630.9 L513.8,630.9 L514.8,630.9 L515.8,630.9 L516.8,630.9 L517.9,630.9 L518.9,630.9 L519.9,630.9 L520.9,630.9 L522.0,630.9 L523.0,630.9 L524.0,630.9 L525.0,630.9 L526.1,630.9 L527.1,630.9 L528.1,630.9 L529.1,631.0 L530.2,631.0 L531.2,631.0 L532.2,631.0 L533.2,631.0 L534.3,631.0 L535.3,631.0 L536.3,631.0 L537.3,631.0 L538.4,631.0 L539.4,631.0 L540.4,631.0 L541.4,631.0 L542.5,631.0 L543.5,631.0 L544.5,631.0 L545.5,631.0 L546.6,631.0 L547.6,631.0 L548.6,631.0 L549.6,631.0 L550.7,631.0 L551.7,631.0 L552.7,631.0 L553.7,631.1 L554.8,631.1 L555.8,631.1 L556.8,631.1 L557.8,631.1 L558.9,631.1 L559.9,631.1 L560.9,631.1 L561.9,631.1 L563.0,631.1 L564.0,631.1 L565.0,631.1 L566.0,631.1 L567.1,631.1 L568.1,631.1 L569.1,631.1 L570.1,631.1 L571.2,631.1 L572.2,631.1 L573.2,631.1 L574.2,631.1 L575.3,631.1 L576.3,631.1 L577.3,631.1 L578.3,631.1 L579.4,631.1 L580.4,631.1 L581.4,631.1 L582.4,631.1 L583.5,631.1 L584.5,631.1 L585.5,631.1 L586.5,631.1 L587.6,631.1 L588.6,631.1 L589.6,631.1 L590.6,631.1 L591.7,631.1 L592.7,631.1 L593.7,631.2 L594.7,631.2 L595.8,631.2 L596.8,631.2 L597.8,631.2 L598.8,631.2 L599.9,631.2 L600.9,631.2 L601.9,631.2 L602.9,631.2 L604.0,631.2 L605.0,631.2 L606.0,631.2 L607.0,631.2 L608.1,631.2 L609.1,631.2 L610.1,631.2 L611.1,631.2 L612.2,631.2 L613.2,631.2 L614.2,631.2 L615.2,631.2 L616.3,631.2 L617.3,631.2 L618.3,631.2 L619.3,631.2 L620.4,631.2 L621.4,631.2 L622.4,631.2 L623.4,631.2 L624.5,631.2 L625.5,631.2 L626.5,631.2 L627.5,631.2 L628.6,631.2 L629.6,631.2 L630.6,631.2 L631.6,631.2 L632.7,631.2 L633.7,631.2 L634.7,631.2 L635.7,631.2 L636.8,631.2 L637.8,631.2 L638.8,631.2 L639.8,631.2 L640.9,631.2 L641.9,631.2 L642.9,631.2 L643.9,631.2 L645.0,631.2 L646.0,631.2 L647.0,631.2 L648.0,631.2 L649.1,631.2 L650.1,631.2 L651.1,631.2 L652.1,631.2 L653.2,631.2 L654.2,631.2 L655.2,631.2 L656.2,631.2 L657.3,631.2 L658.3,631.2 L659.3,631.2 L660.3,631.2 L661.4,631.2 L662.4,631.2 L663.4,631.2 L664.4,631.2 L665.5,631.2 L666.5,631.2 L667.5,631.3 L668.5,631.3 L669.6,631.3 L670.6,631.3 L671.6,631.3 L672.6,631.3 L673.7,631.3 L674.7,631.3 L675.7,631.3 L676.7,631.3 L677.8,631.3 L678.8,631.3 L679.8,631.3 L680.8,631.3 L681.9,631.3 L682.9,631.3 L683.9,631.3 L684.9,631.3 L686.0,631.3 L687.0,631.3 L688.0,631.3 L689.0,631.3 L690.1,631.3 L691.1,631.3 L692.1,631.3 L693.1,631.3 L694.2,631.3 L695.2,631.3 L696.2,631.3 L697.2,631.3 L698.3,631.3 L699.3,631.3 L700.3,631.3 L701.3,631.3 L702.4,631.3 L703.4,631.3 L704.4,631.3 L705.4,631.3 L706.5,631.3 L707.5,631.3 L708.5,631.3 L709.5,631.3 L710.6,631.3 L711.6,631.3 L712.6,631.3 L713.6,631.3 L714.7,631.3 L715.7,631.3 L716.7,631.3 L717.7,631.3 L718.8,631.3 L719.8,631.3 L720.8,631.3 L721.8,631.3 L722.9,631.3 L723.9,631.3 L724.9,631.3 L725.9,631.3 L727.0,631.3 L728.0,631.3 L729.0,631.3 L730.0,631.3 L731.1,631.3 L732.1,631.3 L733.1,631.3 L734.1,631.3 L735.2,631.3 L736.2,631.3 L737.2,631.3 L738.2,631.3 L739.3,631.3 L740.3,631.3 L741.3,631.3 L742.3,631.3 L743.4,631.3 L744.4,631.3 L745.4,631.3 L746.4,631.3 L747.5,631.3 L748.5,631.3 L749.5,631.3 L750.5,631.3 L751.6,631.3 L752.6,631.3 L753.6,631.3 L754.6,631.3 L755.7,631.3 L756.7,631.3 L757.7,631.3 L758.7,631.3 L759.8,631.3 L760.8,631.3 L761.8,631.3 L762.8,631.3 L763.9,631.3 L764.9,631.3 L765.9,631.3 L766.9,631.3 L768.0,631.3 L769.0,631.3 L770.0,631.3 L771.0,631.3 L772.1,631.3 L773.1,631.3 L774.1,631.3 L775.1,631.3 L776.2,631.3 L777.2,631.3 L778.2,631.3 L779.2,631.3 L780.3,631.3 L781.3,631.3 L782.3,631.3 L783.3,631.3 L784.4,631.3 L785.4,631.3 L786.4,631.3 L787.4,631.3 L788.5,631.3 L789.5,631.3 L790.5,631.3 L791.5,631.3 L792.6,631.3 L793.6,631.3 L794.6,631.3 L795.6,631.3 L796.7,631.3 L797.7,631.3 L798.7,631.3 L799.7,631.3 L800.8,631.3 L801.8,631.3 L802.8,631.3 L803.8,631.3 L804.9,631.3 L805.9,631.3 L806.9,631.3 L807.9,631.3 L809.0,631.3 L810.0,631.3 L811.0,631.3 L812.0,631.3 L813.1,631.3 L814.1,631.3 L815.1,631.3 L816.1,631.3 L817.2,631.3 L818.2,631.3 L819.2,631.3 L820.2,631.3 L821.3,631.3 L822.3,631.3 L823.3,631.3 L824.3,631.3 L825.4,631.3 L826.4,631.3 L827.4,631.3 L828.4,631.3 L829.5,631.3 L830.5,631.3 L831.5,631.3 L832.5,631.3 L833.6,631.3 L834.6,631.3 L835.6,631.3 L836.6,631.3 L837.7,631.3 L838.7,631.3 L839.7,631.3 L840.7,631.3 L841.8,631.3 L842.8,631.3 L843.8,631.3 L844.8,631.3 L845.9,631.3 L846.9,631.3 L847.9,631.3 L848.9,631.3 L850.0,631.3 L851.0,631.3 L852.0,631.3 L853.0,631.3 L854.1,631.3 L855.1,631.3 L856.1,631.3 L857.1,631.3 L858.2,631.3 L859.2,631.3 L860.2,631.3 L861.2,631.3 L862.3,631.3 L863.3,631.3 L864.3,631.3 L865.3,631.3 L866.4,631.3 L867.4,631.3 L868.4,631.3 L869.4,631.3 L870.5,631.3 L871.5,631.3 L872.5,631.3 L873.5,631.3 L874.6,631.3 L875.6,631.3 L876.6,631.3 L877.6,631.3 L878.7,631.3 L879.7,631.3 L880.7,631.3 L881.7,631.3 L882.8,631.3 L883.8,631.3 L884.8,631.3 L885.8,631.3 L886.9,631.3 L887.9,631.3 L888.9,631.3 L889.9,631.3 L891.0,631.3 L892.0,631.3 L893.0,631.3 L894.0,631.3 L895.1,631.3 L896.1,631.3 L897.1,631.3 L898.1,631.3 L899.2,631.3 L900.2,631.3 L901.2,631.3 L902.2,631.3 L903.3,631.3 L904.3,631.3 L905.3,631.3 L906.3,631.3 L907.4,631.4 L908.4,631.4 L909.4,631.4 L910.4,631.4 L911.5,631.4 L912.5,631.4 L913.5,631.4 L914.5,631.4 L915.6,631.4 L916.6,631.4 L917.6,631.4 L918.6,631.4 L919.7,631.4 L920.7,631.4 L921.7,631.4 L922.7,631.4 L923.8,631.4 L924.8,631.4 L925.8,631.4 L926.8,631.4 L927.9,631.4 L928.9,631.4 L929.9,631.4 L930.9,631.4 L932.0,631.4 L933.0,631.4 L934.0,631.4 L935.0,631.4 L936.1,631.4 L937.1,631.4 L938.1,631.4 L939.1,631.4 L940.2,631.4 L941.2,631.4 L942.2,631.4 L943.2,631.4 L944.3,631.4 L945.3,631.4 L946.3,631.4 L947.3,631.4 L948.4,631.4 L949.4,631.4 L950.4,631.4 L951.4,631.4 L952.5,631.4 L953.5,631.4 L954.5,631.4"/>
<path d="M524.0,631.4 L525.0,631.4 L526.1,631.3 L527.1,631.3 L528.1,631.3 L529.1,631.3 L530.2,631.3 L531.2,631.3 L532.2,631.3 L533.2,631.3 L534.3,631.3 L535.3,631.2 L536.3,631.2 L537.3,631.2 L538.4,631.2 L539.4,631.2 L540.4,631.1 L541.4,631.1 L542.5,631.1 L543.5,631.0 L544.5,631.0 L545.5,630.9 L546.6,630.9 L547.6,630.8 L548.6,630.8 L549.6,630.7 L550.7,630.7 L551.7,630.6 L552.7,630.5 L553.7,630.4 L554.8,630.3 L555.8,630.2 L556.8,630.1 L557.8,630.0 L558.9,629.9 L559.9,629.7 L560.9,629.6 L561.9,629.4 L563.0,629.2 L564.0,629.1 L565.0,628.9 L566.0,628.6 L567.1,628.4 L568.1,628.2 L569.1,627.9 L570.1,627.6 L571.2,627.3 L572.2,627.0 L573.2,626.7 L574.2,626.3 L575.3,625.9 L576.3,625.5 L577.3,625.1 L578.3,624.7 L579.4,624.2 L580.4,623.7 L581.4,623.1 L582.4,622.6 L583.5,622.0 L584.5,621.4 L585.5,620.8 L586.5,620.1 L587.6,619.4 L588.6,618.7 L589.6,617.9 L590.6,617.1 L591.7,616.3 L592.7,615.4 L593.7,614.6 L594.7,613.6 L595.8,612.7 L596.8,611.7 L597.8,610.7 L598.8,609.7 L599.9,608.6 L600.9,607.5 L601.9,606.4 L602.9,605.2 L604.0,604.0 L605.0,602.8 L606.0,601.6 L607.0,600.4 L608.1,599.1 L609.1,597.8 L610.1,596.5 L611.1,595.2 L612.2,593.9 L613.2,592.6 L614.2,591.2 L615.2,589.9 L616.3,588.5 L617.3,587.2 L618.3,585.8 L619.3,584.5 L620.4,583.2 L621.4,581.8 L622.4,580.5 L623.4,579.3 L624.5,578.0 L625.5,576.8 L626.5,575.5 L627.5,574.4 L628.6,573.2 L629.6,572.1 L630.6,571.0 L631.6,570.0 L632.7,569.0 L633.7,568.1 L634.7,567.2 L635.7,566.3 L636.8,565.6 L637.8,564.8 L638.8,564.2 L639.8,563.6 L640.9,563.0 L641.9,562.6 L642.9,562.2 L643.9,561.8 L645.0,561.5 L646.0,561.3 L647.0,561.2 L648.0,561.1 L649.1,561.2 L650.1,561.2 L651.1,561.4 L652.1,561.6 L653.2,561.9 L654.2,562.2 L655.2,562.7 L656.2,563.1 L657.3,563.7 L658.3,564.3 L659.3,565.0 L660.3,565.7 L661.4,566.5 L662.4,567.4 L663.4,568.3 L664.4,569.2 L665.5,570.2 L666.5,571.2 L667.5,572.3 L668.5,573.4 L669.6,574.6 L670.6,575.8 L671.6,577.0 L672.6,578.2 L673.7,579.5 L674.7,580.8 L675.7,582.1 L676.7,583.4 L677.8,584.8 L678.8,586.1 L679.8,587.4 L680.8,588.8 L681.9,590.1 L682.9,591.5 L683.9,592.8 L684.9,594.2 L686.0,595.5 L687.0,596.8 L688.0,598.1 L689.0,599.4 L690.1,600.6 L691.1,601.9 L692.1,603.1 L693.1,604.3 L694.2,605.5 L695.2,606.6 L696.2,607.7 L697.2,608.8 L698.3,609.9 L699.3,610.9 L700.3,611.9 L701.3,612.9 L702.4,613.8 L703.4,614.7 L704.4,615.6 L705.4,616.5 L706.5,617.3 L707.5,618.1 L708.5,618.8 L709.5,619.5 L710.6,620.2 L711.6,620.9 L712.6,621.5 L713.6,622.1 L714.7,622.7 L715.7,623.3 L716.7,623.8 L717.7,624.3 L718.8,624.7 L719.8,625.2 L720.8,625.6 L721.8,626.0 L722.9,626.4 L723.9,626.7 L724.9,627.1 L725.9,627.4 L727.0,627.7 L728.0,628.0 L729.0,628.2 L730.0,628.5 L731.1,628.7 L732.1,628.9 L733.1,629.1 L734.1,629.3 L735.2,629.4 L736.2,629.6 L737.2,629.8 L738.2,629.9 L739.3,630.0 L740.3,630.1 L741.3,630.2 L742.3,630.3 L743.4,630.4 L744.4,630.5 L745.4,630.6 L746.4,630.7 L747.5,630.7 L748.5,630.8 L749.5,630.9 L750.5,630.9 L751.6,631.0 L752.6,631.0 L753.6,631.0 L754.6,631.1 L755.7,631.1 L756.7,631.1 L757.7,631.2 L758.7,631.2 L759.8,631.2 L760.8,631.2 L761.8,631.2 L762.8,631.3 L763.9,631.3 L764.9,631.3 L765.9,631.3 L766.9,631.3 L768.0,631.3 L769.0,631.3 L770.0,631.3 L771.0,631.3 L772.1,631.4 L773.1,631.4 L774.1,631.4 L775.1,631.4 L776.2,631.4 L777.2,631.4 L778.2,631.4 L779.2,631.4 L780.3,631.4 L781.3,631.4 L782.3,631.4 L783.3,631.4 L784.4,631.4 L785.4,631.4 L786.4,631.4 L787.4,631.4 L788.5,631.4 L789.5,631.4"/>
<path d="M565.0,631.3 L566.0,631.3 L567.1,631.3 L568.1,631.3 L569.1,631.3 L570.1,631.3 L571.2,631.3 L572.2,631.3 L573.2,631.3 L574.2,631.3 L575.3,631.3 L576.3,631.3 L577.3,631.3 L578.3,631.2 L579.4,631.2 L580.4,631.2 L581.4,631.2 L582.4,631.2 L583.5,631.2 L584.5,631.1 L585.5,631.1 L586.5,631.1 L587.6,631.1 L588.6,631.1 L589.6,631.0 L590.6,631.0 L591.7,631.0 L592.7,630.9 L593.7,630.9 L594.7,630.9 L595.8,630.8 L596.8,630.8 L597.8,630.7 L598.8,630.7 L599.9,630.6 L600.9,630.6 L601.9,630.5 L602.9,630.5 L604.0,630.4 L605.0,630.3 L606.0,630.3 L607.0,630.2 L608.1,630.1 L609.1,630.0 L610.1,629.9 L611.1,629.8 L612.2,629.7 L613.2,629.6 L614.2,629.5 L615.2,629.4 L616.3,629.3 L617.3,629.1 L618.3,629.0 L619.3,628.8 L620.4,628.7 L621.4,628.5 L622.4,628.3 L623.4,628.1 L624.5,628.0 L625.5,627.8 L626.5,627.5 L627.5,627.3 L628.6,627.1 L629.6,626.8 L630.6,626.6 L631.6,626.3 L632.7,626.0 L633.7,625.7 L634.7,625.4 L635.7,625.1 L636.8,624.8 L637.8,624.4 L638.8,624.1 L639.8,623.7 L640.9,623.3 L641.9,622.9 L642.9,622.5 L643.9,622.0 L645.0,621.5 L646.0,621.1 L647.0,620.6 L648.0,620.1 L649.1,619.5 L650.1,619.0 L651.1,618.4 L652.1,617.8 L653.2,617.2 L654.2,616.5 L655.2,615.9 L656.2,615.2 L657.3,614.5 L658.3,613.8 L659.3,613.0 L660.3,612.3 L661.4,611.5 L662.4,610.6 L663.4,609.8 L664.4,609.0 L665.5,608.1 L666.5,607.2 L667.5,606.2 L668.5,605.3 L669.6,604.3 L670.6,603.3 L671.6,602.3 L672.6,601.2 L673.7,600.2 L674.7,599.1 L675.7,598.0 L676.7,596.8 L677.8,595.7 L678.8,594.5 L679.8,593.3 L680.8,592.1 L681.9,590.8 L682.9,589.6 L683.9,588.3 L684.9,587.0 L686.0,585.7 L687.0,584.3 L688.0,583.0 L689.0,581.6 L690.1,580.3 L691.1,578.9 L692.1,577.5 L693.1,576.0 L694.2,574.6 L695.2,573.2 L696.2,571.8 L697.2,570.3 L698.3,568.9 L699.3,567.4 L700.3,565.9 L701.3,564.5 L702.4,563.0 L703.4,561.6 L704.4,560.1 L705.4,558.6 L706.5,557.2 L707.5,555.8 L708.5,554.3 L709.5,552.9 L710.6,551.5 L711.6,550.1 L712.6,548.7 L713.6,547.3 L714.7,546.0 L715.7,544.7 L716.7,543.4 L717.7,542.1 L718.8,540.8 L719.8,539.6 L720.8,538.4 L721.8,537.2 L722.9,536.0 L723.9,534.9 L724.9,533.8 L725.9,532.8 L727.0,531.8 L728.0,530.8 L729.0,529.8 L730.0,528.9 L731.1,528.1 L732.1,527.3 L733.1,526.5 L734.1,525.7 L735.2,525.1 L736.2,524.4 L737.2,523.8 L738.2,523.3 L739.3,522.8 L740.3,522.3 L741.3,521.9 L742.3,521.6 L743.4,521.3 L744.4,521.0 L745.4,520.9 L746.4,520.7 L747.5,520.6 L748.5,520.6 L749.5,520.6 L750.5,520.7 L751.6,520.8 L752.6,521.0 L753.6,521.2 L754.6,521.5 L755.7,521.8 L756.7,522.2 L757.7,522.6 L758.7,523.1 L759.8,523.6 L760.8,524.2 L761.8,524.8 L762.8,525.5 L763.9,526.2 L764.9,526.9 L765.9,527.7 L766.9,528.6 L768.0,529.5 L769.0,530.4 L770.0,531.4 L771.0,532.4 L772.1,533.4 L773.1,534.5 L774.1,535.6 L775.1,536.7 L776.2,537.9 L777.2,539.1 L778.2,540.3 L779.2,541.6 L780.3,542.8 L781.3,544.1 L782.3,545.5 L783.3,546.8 L784.4,548.2 L785.4,549.5 L786.4,550.9 L787.4,552.3 L788.5,553.8 L789.5,555.2 L790.5,556.6 L791.5,558.1 L792.6,559.5 L793.6,561.0 L794.6,562.4 L795.6,563.9 L796.7,565.4 L797.7,566.8 L798.7,568.3 L799.7,569.7 L800.8,571.2 L801.8,572.6 L802.8,574.1 L803.8,575.5 L804.9,576.9 L805.9,578.3 L806.9,579.7 L807.9,581.1 L809.0,582.4 L810.0,583.8 L811.0,585.1 L812.0,586.5 L813.1,587.8 L814.1,589.0 L815.1,590.3 L816.1,591.6 L817.2,592.8 L818.2,594.0 L819.2,595.2 L820.2,596.4 L821.3,597.5 L822.3,598.6 L823.3,599.7 L824.3,600.8 L825.4,601.9 L826.4,602.9 L827.4,603.9 L828.4,604.9 L829.5,605.9 L830.5,606.8 L831.5,607.7 L832.5,608.6 L833.6,609.5 L834.6,610.3 L835.6,611.1 L836.6,611.9 L837.7,612.7 L838.7,613.5 L839.7,614.2 L840.7,614.9 L841.8,615.6 L842.8,616.3 L843.8,616.9 L844.8,617.5 L845.9,618.1 L846.9,618.7 L847.9,619.3 L848.9,619.8 L850.0,620.4 L851.0,620.9 L852.0,621.4 L853.0,621.8 L854.1,622.3 L855.1,622.7 L856.1,623.1 L857.1,623.5 L858.2,623.9 L859.2,624.3 L860.2,624.6 L861.2,625.0 L862.3,625.3 L863.3,625.6 L864.3,625.9 L865.3,626.2 L866.4,626.5 L867.4,626.7 L868.4,627.0 L869.4,627.2 L870.5,627.5 L871.5,627.7 L872.5,627.9 L873.5,628.1 L874.6,628.3 L875.6,628.4 L876.6,628.6 L877.6,628.8 L878.7,628.9 L879.7,629.1 L880.7,629.2 L881.7,629.3 L882.8,629.5 L883.8,629.6 L884.8,629.7 L885.8,629.8 L886.9,629.9 L887.9,630.0 L888.9,630.1 L889.9,630.2 L891.0,630.2 L892.0,630.3 L893.0,630.4 L894.0,630.4 L895.1,630.5 L896.1,630.6 L897.1,630.6 L898.1,630.7 L899.2,630.7 L900.2,630.8 L901.2,630.8 L902.2,630.8 L903.3,630.9 L904.3,630.9 L905.3,631.0 L906.3,631.0 L907.4,631.0 L908.4,631.0 L909.4,631.1 L910.4,631.1 L911.5,631.1 L912.5,631.1 L913.5,631.2 L914.5,631.2 L915.6,631.2 L916.6,631.2 L917.6,631.2 L918.6,631.2 L919.7,631.2 L920.7,631.3 L921.7,631.3 L922.7,631.3 L923.8,631.3 L924.8,631.3 L925.8,631.3 L926.8,631.3 L927.9,631.3 L928.9,631.3 L929.9,631.3 L930.9,631.3 L932.0,631.3 L933.0,631.3"/>
<path d="M862.3,631.4 L863.3,631.4 L864.3,631.4 L865.3,631.3 L866.4,631.3 L867.4,631.3 L868.4,631.3 L869.4,631.3 L870.5,631.3 L871.5,631.3 L872.5,631.3 L873.5,631.3 L874.6,631.3 L875.6,631.3 L876.6,631.3 L877.6,631.3 L878.7,631.2 L879.7,631.2 L880.7,631.2 L881.7,631.2 L882.8,631.2 L883.8,631.2 L884.8,631.1 L885.8,631.1 L886.9,631.1 L887.9,631.1 L888.9,631.1 L889.9,631.0 L891.0,631.0 L892.0,631.0 L893.0,630.9 L894.0,630.9 L895.1,630.9 L896.1,630.8 L897.1,630.8 L898.1,630.8 L899.2,630.7 L900.2,630.7 L901.2,630.6 L902.2,630.6 L903.3,630.5 L904.3,630.5 L905.3,630.4 L906.3,630.4 L907.4,630.3 L908.4,630.2 L909.4,630.2 L910.4,630.1 L911.5,630.0 L912.5,630.0 L913.5,629.9 L914.5,629.8 L915.6,629.8 L916.6,629.7 L917.6,629.6 L918.6,629.5 L919.7,629.4 L920.7,629.3 L921.7,629.3 L922.7,629.2 L923.8,629.1 L924.8,629.0 L925.8,628.9 L926.8,628.8 L927.9,628.7 L928.9,628.6 L929.9,628.5 L930.9,628.4 L932.0,628.3 L933.0,628.2 L934.0,628.1 L935.0,628.0 L936.1,627.9 L937.1,627.8 L938.1,627.8 L939.1,627.7 L940.2,627.6 L941.2,627.5 L942.2,627.4 L943.2,627.3 L944.3,627.2 L945.3,627.2 L946.3,627.1 L947.3,627.0 L948.4,626.9 L949.4,626.9 L950.4,626.8 L951.4,626.7 L952.5,626.7 L953.5,626.6 L954.5,626.6" stroke-width="1.4"/>
</g>
<!-- axes -->
<g fill="none" stroke="#1c1819" stroke-width="2.4" stroke-linecap="butt">
<path d="M134.1,21.9 L134.1,631.6 L955.7,631.6" stroke-linejoin="miter"/>
</g>
<g fill="none" stroke="#1c1819" stroke-width="2.4">
<line x1="134.5" y1="530.0" x2="148.6" y2="530.0"/>
<line x1="134.5" y1="428.6" x2="148.6" y2="428.6"/>
<line x1="134.5" y1="327.2" x2="148.6" y2="327.2"/>
<line x1="134.5" y1="225.9" x2="148.6" y2="225.9"/>
<line x1="134.5" y1="124.5" x2="148.6" y2="124.5"/>
<line x1="134.5" y1="23.1" x2="148.6" y2="23.1"/>
<line x1="339.5" y1="631.4" x2="339.5" y2="617.5"/>
<line x1="544.5" y1="631.4" x2="544.5" y2="617.5"/>
<line x1="749.5" y1="631.4" x2="749.5" y2="617.5"/>
<line x1="954.5" y1="631.4" x2="954.5" y2="617.5"/>
</g>
<g>
<text x="0" y="0" text-anchor="end" transform="translate(119.0,643.8) scale(0.951,1)">0</text>
<text x="0" y="0" text-anchor="end" transform="translate(119.0,542.4) scale(0.951,1)">100</text>
<text x="0" y="0" text-anchor="end" transform="translate(119.0,441.0) scale(0.951,1)">200</text>
<text x="0" y="0" text-anchor="end" transform="translate(119.0,339.6) scale(0.951,1)">300</text>
<text x="0" y="0" text-anchor="end" transform="translate(119.0,238.3) scale(0.951,1)">400</text>
<text x="0" y="0" text-anchor="end" transform="translate(119.0,136.9) scale(0.951,1)">500</text>
<text x="0" y="0" text-anchor="end" transform="translate(119.0,35.5) scale(0.951,1)">600</text>
</g>
<g>
<text x="0" y="0" text-anchor="middle" transform="translate(135.0,679.4) scale(0.951,1)">10</text>
<text x="0" y="0" text-anchor="middle" transform="translate(340.0,679.4) scale(0.951,1)">20</text>
<text x="0" y="0" text-anchor="middle" transform="translate(545.0,679.4) scale(0.951,1)">30</text>
<text x="0" y="0" text-anchor="middle" transform="translate(750.0,679.4) scale(0.951,1)">40</text>
<text x="0" y="0" text-anchor="middle" transform="translate(955.0,679.4) scale(0.951,1)">50</text>
</g>
<text class="t" x="0" y="0" text-anchor="middle" transform="translate(545,726.2) scale(1.04,1)">2θ, град</text>
<text class="t" x="0" y="0" text-anchor="middle" transform="translate(35,326.5) rotate(-90) scale(1.0515,1)">Интенсивность, отн. ед.</text>
</svg>
</body>
</html>
